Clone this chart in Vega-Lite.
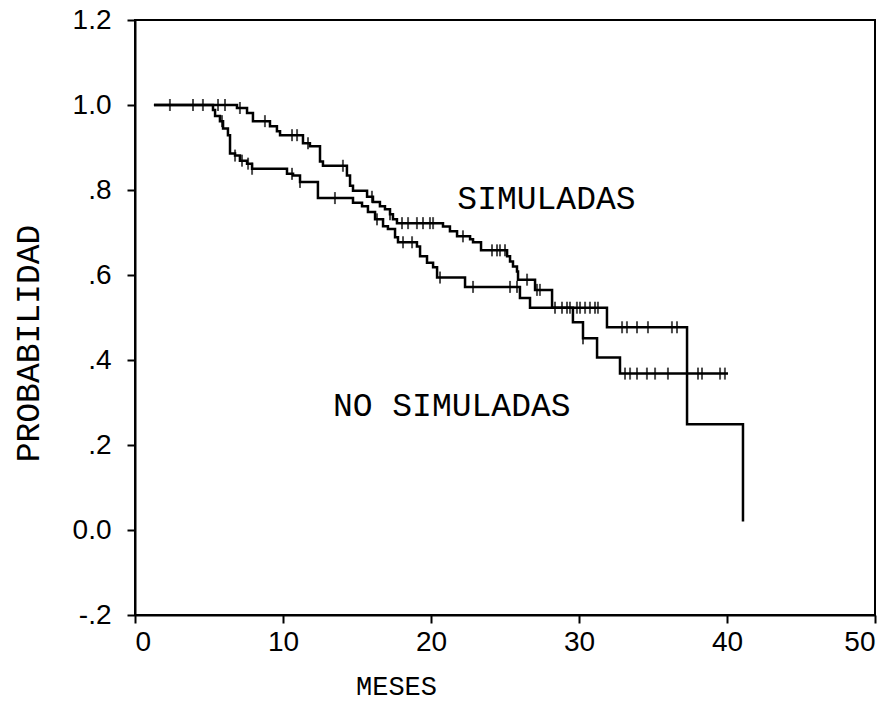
{
  "$schema": "https://vega.github.io/schema/vega-lite/v6.json",
  "width": 740,
  "height": 595,
  "autosize": {"type": "none"},
  "padding": {"left": 135, "top": 20, "right": 18, "bottom": 86},
  "background": "white",
  "config": {
    "view": {"stroke": "black", "strokeWidth": 2},
    "axis": {"grid": false, "domainColor": "black", "domainWidth": 2, "tickColor": "black", "tickWidth": 2, "tickSize": 8,
             "labelColor": "black", "labelFont": "Liberation Sans", "labelFontSize": 28, "titleColor": "black",
             "titleFont": "Liberation Mono", "titleFontWeight": "normal", "titleFontSize": 27}
  },
  "datasets": {
    "curves": [
      {"serie": "A", "t": 1.28, "s": 1.0}, {"serie": "A", "t": 6.89, "s": 0.993}, {"serie": "A", "t": 7.57, "s": 0.981},
      {"serie": "A", "t": 7.97, "s": 0.962}, {"serie": "A", "t": 9.12, "s": 0.95}, {"serie": "A", "t": 9.59, "s": 0.938},
      {"serie": "A", "t": 9.8, "s": 0.929}, {"serie": "A", "t": 11.35, "s": 0.91}, {"serie": "A", "t": 11.82, "s": 0.903},
      {"serie": "A", "t": 12.5, "s": 0.867}, {"serie": "A", "t": 12.7, "s": 0.857}, {"serie": "A", "t": 14.32, "s": 0.834},
      {"serie": "A", "t": 14.53, "s": 0.81}, {"serie": "A", "t": 14.73, "s": 0.798}, {"serie": "A", "t": 15.68, "s": 0.784},
      {"serie": "A", "t": 16.08, "s": 0.772}, {"serie": "A", "t": 16.55, "s": 0.762}, {"serie": "A", "t": 16.89, "s": 0.755},
      {"serie": "A", "t": 17.23, "s": 0.743}, {"serie": "A", "t": 17.43, "s": 0.731}, {"serie": "A", "t": 17.7, "s": 0.722},
      {"serie": "A", "t": 20.81, "s": 0.714}, {"serie": "A", "t": 21.28, "s": 0.703}, {"serie": "A", "t": 21.76, "s": 0.691},
      {"serie": "A", "t": 22.64, "s": 0.684}, {"serie": "A", "t": 22.84, "s": 0.677}, {"serie": "A", "t": 23.38, "s": 0.658},
      {"serie": "A", "t": 25.14, "s": 0.644}, {"serie": "A", "t": 25.34, "s": 0.632}, {"serie": "A", "t": 25.54, "s": 0.62},
      {"serie": "A", "t": 25.81, "s": 0.608}, {"serie": "A", "t": 25.88, "s": 0.589}, {"serie": "A", "t": 27.03, "s": 0.565},
      {"serie": "A", "t": 28.18, "s": 0.523}, {"serie": "A", "t": 31.89, "s": 0.477}, {"serie": "A", "t": 37.3, "s": 0.249},
      {"serie": "A", "t": 41.08, "s": 0.02},
      {"serie": "B", "t": 1.28, "s": 1.0}, {"serie": "B", "t": 5.27, "s": 0.988}, {"serie": "B", "t": 5.41, "s": 0.974},
      {"serie": "B", "t": 5.74, "s": 0.962}, {"serie": "B", "t": 5.95, "s": 0.945}, {"serie": "B", "t": 6.28, "s": 0.929},
      {"serie": "B", "t": 6.42, "s": 0.886}, {"serie": "B", "t": 6.76, "s": 0.881}, {"serie": "B", "t": 7.09, "s": 0.869},
      {"serie": "B", "t": 7.57, "s": 0.862}, {"serie": "B", "t": 7.91, "s": 0.85}, {"serie": "B", "t": 10.27, "s": 0.838},
      {"serie": "B", "t": 10.68, "s": 0.834}, {"serie": "B", "t": 11.15, "s": 0.819}, {"serie": "B", "t": 12.36, "s": 0.781},
      {"serie": "B", "t": 14.73, "s": 0.77}, {"serie": "B", "t": 15.34, "s": 0.762}, {"serie": "B", "t": 15.74, "s": 0.748},
      {"serie": "B", "t": 16.22, "s": 0.731}, {"serie": "B", "t": 16.76, "s": 0.715}, {"serie": "B", "t": 17.09, "s": 0.708},
      {"serie": "B", "t": 17.57, "s": 0.689}, {"serie": "B", "t": 17.77, "s": 0.677}, {"serie": "B", "t": 19.05, "s": 0.667},
      {"serie": "B", "t": 19.26, "s": 0.644}, {"serie": "B", "t": 19.73, "s": 0.629}, {"serie": "B", "t": 20.14, "s": 0.618},
      {"serie": "B", "t": 20.41, "s": 0.594}, {"serie": "B", "t": 22.3, "s": 0.572}, {"serie": "B", "t": 26.01, "s": 0.546},
      {"serie": "B", "t": 26.69, "s": 0.523}, {"serie": "B", "t": 29.59, "s": 0.489}, {"serie": "B", "t": 30.27, "s": 0.451},
      {"serie": "B", "t": 31.22, "s": 0.406}, {"serie": "B", "t": 32.77, "s": 0.368}, {"serie": "B", "t": 40.07, "s": 0.368}
    ],
    "censor": [
      {"serie": "A", "t": 2.36, "s": 1.0}, {"serie": "A", "t": 3.92, "s": 1.0}, {"serie": "A", "t": 4.59, "s": 1.0},
      {"serie": "A", "t": 5.61, "s": 1.0}, {"serie": "A", "t": 6.08, "s": 1.0}, {"serie": "A", "t": 7.09, "s": 0.993},
      {"serie": "A", "t": 8.78, "s": 0.962}, {"serie": "A", "t": 10.61, "s": 0.929}, {"serie": "A", "t": 10.95, "s": 0.929},
      {"serie": "A", "t": 11.69, "s": 0.91}, {"serie": "A", "t": 14.05, "s": 0.857}, {"serie": "A", "t": 16.01, "s": 0.784},
      {"serie": "A", "t": 17.23, "s": 0.743}, {"serie": "A", "t": 18.04, "s": 0.722}, {"serie": "A", "t": 18.45, "s": 0.722},
      {"serie": "A", "t": 19.05, "s": 0.722}, {"serie": "A", "t": 19.46, "s": 0.722}, {"serie": "A", "t": 19.93, "s": 0.722},
      {"serie": "A", "t": 20.14, "s": 0.722}, {"serie": "A", "t": 22.16, "s": 0.691}, {"serie": "A", "t": 24.12, "s": 0.658},
      {"serie": "A", "t": 24.46, "s": 0.658}, {"serie": "A", "t": 24.66, "s": 0.658}, {"serie": "A", "t": 25.0, "s": 0.658},
      {"serie": "A", "t": 26.49, "s": 0.589}, {"serie": "A", "t": 27.16, "s": 0.565}, {"serie": "A", "t": 27.36, "s": 0.565},
      {"serie": "A", "t": 28.38, "s": 0.523}, {"serie": "A", "t": 28.85, "s": 0.523}, {"serie": "A", "t": 29.19, "s": 0.523},
      {"serie": "A", "t": 29.39, "s": 0.523}, {"serie": "A", "t": 29.86, "s": 0.523}, {"serie": "A", "t": 30.07, "s": 0.523},
      {"serie": "A", "t": 30.41, "s": 0.523}, {"serie": "A", "t": 30.74, "s": 0.523}, {"serie": "A", "t": 31.08, "s": 0.523},
      {"serie": "A", "t": 31.28, "s": 0.523}, {"serie": "A", "t": 32.91, "s": 0.477}, {"serie": "A", "t": 33.24, "s": 0.477},
      {"serie": "A", "t": 33.92, "s": 0.477}, {"serie": "A", "t": 34.66, "s": 0.477}, {"serie": "A", "t": 36.28, "s": 0.477},
      {"serie": "A", "t": 36.62, "s": 0.477},
      {"serie": "B", "t": 5.88, "s": 0.962}, {"serie": "B", "t": 6.76, "s": 0.881}, {"serie": "B", "t": 7.23, "s": 0.869},
      {"serie": "B", "t": 7.64, "s": 0.862}, {"serie": "B", "t": 7.91, "s": 0.85}, {"serie": "B", "t": 10.61, "s": 0.838},
      {"serie": "B", "t": 11.15, "s": 0.819}, {"serie": "B", "t": 13.51, "s": 0.781}, {"serie": "B", "t": 16.35, "s": 0.731},
      {"serie": "B", "t": 18.11, "s": 0.677}, {"serie": "B", "t": 18.72, "s": 0.677}, {"serie": "B", "t": 20.61, "s": 0.594},
      {"serie": "B", "t": 22.84, "s": 0.572}, {"serie": "B", "t": 25.34, "s": 0.572}, {"serie": "B", "t": 25.81, "s": 0.572},
      {"serie": "B", "t": 30.27, "s": 0.451}, {"serie": "B", "t": 33.11, "s": 0.368}, {"serie": "B", "t": 33.45, "s": 0.368},
      {"serie": "B", "t": 33.92, "s": 0.368}, {"serie": "B", "t": 34.59, "s": 0.368}, {"serie": "B", "t": 35.14, "s": 0.368},
      {"serie": "B", "t": 36.01, "s": 0.368}, {"serie": "B", "t": 38.04, "s": 0.368}, {"serie": "B", "t": 38.31, "s": 0.368},
      {"serie": "B", "t": 39.53, "s": 0.368}, {"serie": "B", "t": 39.86, "s": 0.368}
    ],
    "labels": [
      {"label": "SIMULADAS", "t": 27.8, "s": 0.779},
      {"label": "NO SIMULADAS", "t": 21.4, "s": 0.292}
    ]
  },
  "layer": [
    {
      "data": {"name": "curves"},
      "mark": {"type": "line", "interpolate": "step-after", "color": "black", "strokeWidth": 2.5},
      "encoding": {
        "x": {"field": "t", "type": "quantitative", "scale": {"domain": [0, 50], "nice": false},
              "axis": {"values": [0, 10, 20, 30, 40, 50], "title": "MESES", "labelPadding": 5, "titleX": 261, "titleY": 71, "titleBaseline": "middle"}},
        "y": {"field": "s", "type": "quantitative", "scale": {"domain": [-0.2, 1.2], "nice": false, "zero": false},
              "axis": {"values": [-0.2, 0, 0.2, 0.4, 0.6, 0.8, 1.0, 1.2], "title": "PROBABILIDAD", "labelPadding": 16,
                       "labelExpr": "datum.value == 0 ? '0.0' : (abs(datum.value) >= 1 ? format(datum.value, '.1f') : (datum.value < 0 ? '-' : '') + '.' + format(abs(datum.value) * 10, '.0f'))",
                       "titleX": -107, "titleY": 323, "titleBaseline": "middle", "titleAlign": "center", "titleFontSize": 33}},
        "detail": {"field": "serie", "type": "nominal"}
      }
    },
    {
      "data": {"name": "censor"},
      "mark": {"type": "tick", "orient": "vertical", "color": "black", "size": 12, "thickness": 2},
      "encoding": {
        "x": {"field": "t", "type": "quantitative"},
        "y": {"field": "s", "type": "quantitative"}
      }
    },
    {
      "data": {"name": "labels"},
      "mark": {"type": "text", "font": "Liberation Mono", "fontSize": 33, "color": "black", "align": "center", "baseline": "middle"},
      "encoding": {
        "x": {"field": "t", "type": "quantitative"},
        "y": {"field": "s", "type": "quantitative"},
        "text": {"field": "label", "type": "nominal"}
      }
    }
  ]
}
